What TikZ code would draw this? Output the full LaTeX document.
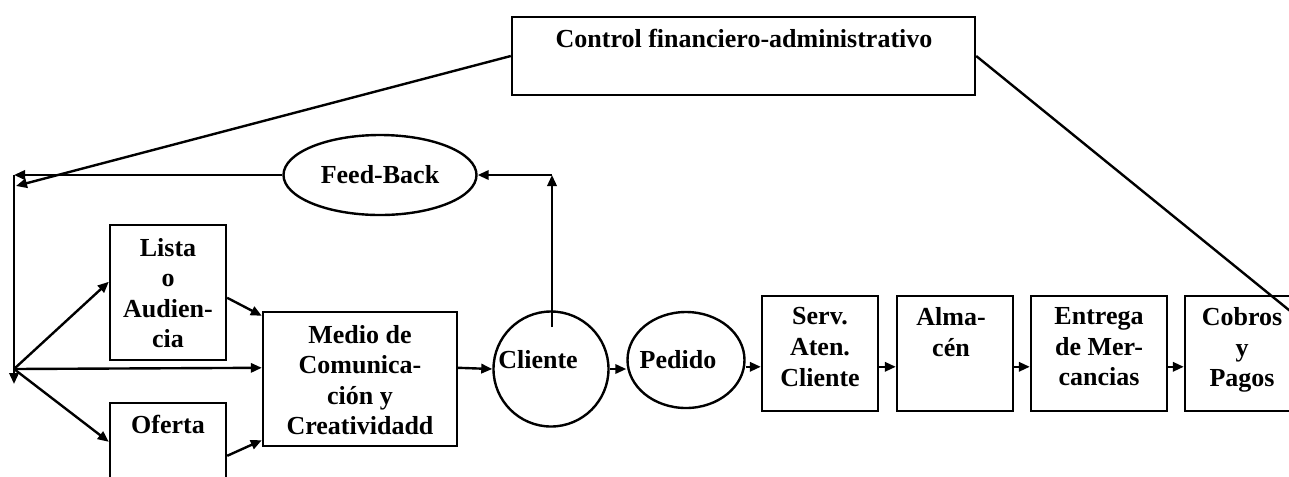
\documentclass[tikz,border=0pt]{standalone}
\usepackage{fontspec}
\setmainfont{Liberation Serif}
\usetikzlibrary{shapes.geometric,arrows.meta,calc,fit}

\begin{document}
\begin{tikzpicture}[x=0.75pt,y=-0.75pt,
  line width=1.8pt,
  box/.style={draw, rectangle, inner sep=0pt},
  oval/.style={draw, ellipse, inner sep=0pt},
  lbl/.style={font=\bfseries\fontsize{19.5pt}{22.9pt}\selectfont, align=center, inner sep=0pt},
  arr/.style={-{Triangle[length=8.25pt,width=7pt]}},
]
\useasboundingbox (0,0) rectangle (1289,476);
\clip (0,0) rectangle (1289,476);

% top control box
\node[box, fit={(512,17) (975,95)}] (ctrl) {};
\node[lbl] (ctrlt) at (744,38.5) {Control financiero-administrativo};

% left column
\node[box, fit={(110,225) (226,360)}] (lista) {};
\node[lbl] (listat) at (168,293) {Lista\\o\\Audien-\\cia};
\node[box, fit={(110,403) (226,500)}] (oferta) {};
\node[lbl] (ofertat) at (168,424.5) {Oferta};

\node[box, fit={(263,312) (457,446)}] (medio) {};
\node[lbl] (mediot) at (360,380) {Medio de\\Comunica-\\ción y\\Creatividadd};

% feedback loop and customer
\node[oval, minimum width=144.75pt, minimum height=60pt, lbl] (feed) at (380,175) {Feed-Back};
\node[draw, circle, inner sep=0pt, minimum size=86.25pt] (cliente) at (551,369) {};
\node[lbl] (clientet) at (538,359.5) {Cliente};
\node[oval, minimum width=87.75pt, minimum height=72pt] (pedido) at (686,360) {};
\node[lbl] (pedidot) at (678,359.5) {Pedido};

% order processing chain
\node[box, fit={(762,296) (878,411)}] (serv) {};
\node[lbl] (servt) at (820,347) {Serv.\\Aten.\\Cliente};
\node[box, fit={(897,296) (1013,411)}] (alma) {};
\node[lbl] (almat) at (951,332) {Alma-\\cén};
\node[box, fit={(1031,296) (1167,411)}] (entrega) {};
\node[lbl] (entregat) at (1099,347) {Entrega\\de Mer-\\cancias};
\node[box, fit={(1185,296) (1299,411)}] (cobros) {};
\node[lbl] (cobrost) at (1242,350) {Cobros\\y\\Pagos};

% free ends and bends
\coordinate (fbtop) at (14,175);
\coordinate (junc) at (14,369);
\coordinate (vend) at (14,384);
\coordinate (ctrltip) at (16,186);
\coordinate (fbright) at (552,175);
\coordinate (slant) at (1300,319);
\coordinate (servin) at ($(serv.north west)+(0,72)$);

% connectors
\draw[arr] (feed.west) -- (fbtop);
\draw[arr] (fbtop) -- (vend);
\draw[arr] (ctrl.west) -- (ctrltip);
\draw (ctrl.east) -- (slant);

\draw[arr] (junc) -- ($(lista.north west)+(0,58)$);
\draw[arr] (junc) -- ($(medio.north west)+(0,57)$);
\draw[arr] (junc) -- ($(oferta.north west)+(0,40)$);
\draw[arr] ($(lista.north east)+(0,74)$) -- ($(medio.north west)+(0,5)$);
\draw[arr] ($(oferta.north east)+(0,54)$) -- ($(medio.south west)+(0,-7)$);

\draw[arr] ($(medio.north east)+(0,57)$) -- (cliente.west);
\draw[arr] ($(cliente.center)+(1,-42)$) -- (fbright);
\draw[arr] (fbright) -- (feed.east);
\draw[arr] (cliente.east) -- (cliente.east -| pedido.west);
\draw[arr] (servin -| pedido.east) -- (servin);
\draw[arr] ($(serv.north east)+(0,72)$) -- ($(alma.north west)+(0,72)$);
\draw[arr] ($(alma.north east)+(0,72)$) -- ($(entrega.north west)+(0,72)$);
\draw[arr] ($(entrega.north east)+(0,72)$) -- ($(cobros.north west)+(0,72)$);
\end{tikzpicture}
\end{document}
